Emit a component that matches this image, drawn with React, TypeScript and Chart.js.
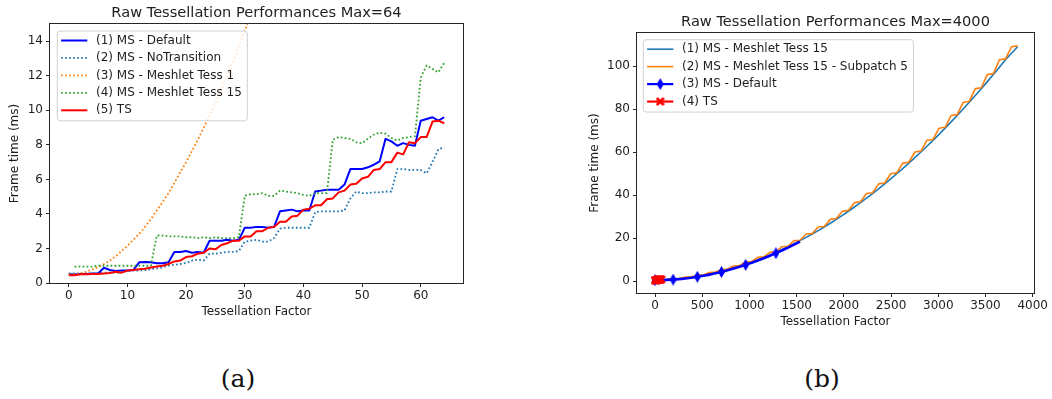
import React, { useEffect, useRef } from 'react';
import { Chart, registerables } from 'chart.js';

Chart.register(...registerables);

// ---------------- Panel (a): Max = 64 ----------------
const tessFactorA = [
  0, 1, 2, 3, 4, 5, 6, 7, 8, 9, 10, 11, 12, 13, 14, 15, 16, 17, 18, 19, 20, 21, 22, 23, 24, 25, 26, 27, 28, 29, 30, 31,
  32, 33, 34, 35, 36, 37, 38, 39, 40, 41, 42, 43, 44, 45, 46, 47, 48, 49, 50, 51, 52, 53, 54, 55, 56, 57, 58, 59, 60,
  61, 62, 63, 64,
];
const msDefaultA = [
  0.5, 0.5, 0.52, 0.52, 0.55, 0.55, 0.88, 0.75, 0.7, 0.72, 0.72, 0.75, 1.2, 1.22, 1.2, 1.15, 1.15, 1.2, 1.8, 1.8, 1.85,
  1.75, 1.8, 1.75, 2.45, 2.45, 2.45, 2.5, 2.45, 2.5, 3.2, 3.2, 3.25, 3.25, 3.2, 3.25, 4.15, 4.2, 4.25, 4.15, 4.2, 4.2,
  5.3, 5.35, 5.4, 5.4, 5.4, 5.7, 6.6, 6.6, 6.6, 6.7, 6.85, 7.05, 8.35, 8.2, 7.95, 8.1, 8.0, 7.95, 9.4, 9.5, 9.6, 9.4, 9.6,
];
const msNoTransitionA = [
  0.55, 0.55, 0.55, 0.55, 0.55, 0.55, 0.6, 0.6, 0.6, 0.62, 0.7, 0.72, 0.72, 0.75, 0.8, 0.85, 0.9, 1.0, 1.05, 1.1, 1.15,
  1.3, 1.35, 1.3, 1.7, 1.7, 1.75, 1.8, 1.8, 1.85, 2.4, 2.45, 2.5, 2.4, 2.4, 2.6, 3.15, 3.2, 3.2, 3.2, 3.2, 3.2, 4.1,
  4.15, 4.15, 4.15, 4.15, 4.2, 4.9, 5.3, 5.2, 5.2, 5.25, 5.25, 5.3, 5.3, 6.6, 6.6, 6.55, 6.55, 6.55, 6.35, 7.0, 7.75, 7.85,
];
const msMeshletTess1A = [
  0.5, 0.52, 0.56, 0.65, 0.78, 0.92, 1.1, 1.3, 1.55, 1.85, 2.15, 2.5, 2.85, 3.25, 3.7, 4.2, 4.7, 5.2, 5.8, 6.4, 7.0,
  7.65, 8.3, 9.0, 9.7, 10.45, 11.2, 12.0, 12.8, 13.7, 14.6, 15.5, 16.4,
];
const msMeshletTess15A = [
  null, 0.95, 0.95, 0.95, 0.95, 1.0, 1.0, 1.0, 1.0, 1.0, 1.0, 1.0, 1.0, 1.0, 1.0, 2.75, 2.75, 2.7, 2.7, 2.7, 2.65, 2.65,
  2.6, 2.65, 2.6, 2.65, 2.6, 2.6, 2.6, 2.65, 5.05, 5.15, 5.15, 5.2, 5.05, 5.05, 5.35, 5.3, 5.25, 5.2, 5.1, 5.05, 5.2,
  5.2, 5.2, 8.3, 8.45, 8.4, 8.35, 8.15, 8.1, 8.35, 8.6, 8.7, 8.65, 8.4, 8.25, 8.4, 8.45, 8.5, 11.9, 12.6, 12.4, 12.2, 12.75,
];
const tsA = [
  0.45, 0.45, 0.5, 0.5, 0.52, 0.52, 0.55, 0.58, 0.65, 0.6, 0.72, 0.75, 0.8, 0.82, 0.9, 0.95, 1.0, 1.1, 1.25, 1.3, 1.5,
  1.55, 1.7, 1.75, 2.0, 1.95, 2.2, 2.3, 2.45, 2.45, 2.7, 2.7, 3.0, 3.0, 3.2, 3.25, 3.55, 3.55, 3.85, 3.9, 4.25, 4.3,
  4.5, 4.5, 4.85, 4.9, 5.25, 5.35, 5.7, 5.75, 6.05, 6.15, 6.55, 6.6, 7.0, 7.0, 7.55, 7.45, 8.15, 8.1, 8.45, 8.45, 9.35,
  9.4, 9.25,
];
const xTicksA = [0, 10, 20, 30, 40, 50, 60];
const yTicksA = [0, 2, 4, 6, 8, 10, 12, 14];

// ---------------- Panel (b): Max = 4000 ----------------
const tessFactorB = [
  0, 64, 128, 192, 256, 320, 384, 448, 512, 576, 640, 704, 768, 832, 896, 960, 1024, 1088, 1152, 1216, 1280, 1344,
  1408, 1472, 1536, 1600, 1664, 1728, 1792, 1856, 1920, 1984, 2048, 2112, 2176, 2240, 2304, 2368, 2432, 2496, 2560,
  2624, 2688, 2752, 2816, 2880, 2944, 3008, 3072, 3136, 3200, 3264, 3328, 3392, 3456, 3520, 3584, 3648, 3712, 3776, 3840,
];
const meshletTess15B = [
  0.5, 0.59, 0.73, 0.94, 1.2, 1.53, 1.91, 2.35, 2.85, 3.41, 4.03, 4.7, 5.44, 6.23, 7.09, 8.0, 8.97, 10.0, 11.09, 12.24,
  13.45, 14.72, 16.04, 17.43, 18.87, 20.37, 21.93, 23.55, 25.23, 26.97, 28.77, 30.63, 32.54, 34.52, 36.55, 38.64,
  40.79, 43.0, 45.27, 47.6, 49.99, 52.43, 54.94, 57.5, 60.13, 62.81, 65.55, 68.35, 71.21, 74.13, 77.11, 80.14, 83.24,
  86.39, 89.6, 92.88, 96.21, 99.6, 103.05, 106.1, 109.1,
];
const subpatch5B = [
  0.5, 0.73, 0.78, 1.2, 1.25, 1.91, 1.96, 2.85, 2.9, 4.03, 4.23, 5.44, 5.64, 7.09, 7.29, 8.97, 9.17, 11.09, 11.29,
  13.45, 13.65, 16.04, 16.24, 18.87, 19.07, 21.93, 22.13, 25.23, 25.43, 28.77, 29.17, 32.54, 32.94, 36.55, 36.95,
  40.79, 41.19, 45.27, 45.67, 49.99, 50.39, 54.94, 55.34, 60.13, 60.53, 65.55, 65.95, 71.21, 71.61, 77.11, 77.51,
  83.24, 83.64, 89.6, 90.0, 96.21, 96.61, 103.05, 103.45, 109.1, 109.5,
];
const msDefaultB = [
  0.45, 0.5, 0.6, 0.75, 0.95, 1.25, 1.6, 2.05, 2.5, 3.05, 3.65, 4.3, 5.05, 5.85, 6.7, 7.6, 8.55, 9.6, 10.7, 11.85,
  13.05, 14.3, 15.6, 17.0, 18.45,
];
const defaultMarkerIdxB = [0, 3, 7, 11, 15, 20];
const tsXB = [0, 8, 16, 24, 32, 40, 48, 56, 64];
const tsB = [0.45, 0.5, 0.55, 0.6, 0.65, 0.7, 0.75, 0.8, 0.85];
const xTicksB = [0, 500, 1000, 1500, 2000, 2500, 3000, 3500, 4000];
const yTicksB = [0, 20, 40, 60, 80, 100];

// ---------------- helpers ----------------
const FONT = '"DejaVu Sans", "Noto Sans", sans-serif';
const TEXT = '#1e1e1e';

function makeDiamond(color: string) {
  const c = document.createElement('canvas');
  c.width = 7;
  c.height = 12;
  const g = c.getContext('2d')!;
  g.fillStyle = color;
  g.beginPath();
  g.moveTo(3.5, 0);
  g.lineTo(7, 6);
  g.lineTo(3.5, 12);
  g.lineTo(0, 6);
  g.closePath();
  g.fill();
  return c;
}

function makeX(color: string) {
  const c = document.createElement('canvas');
  c.width = 9;
  c.height = 9;
  const g = c.getContext('2d')!;
  g.strokeStyle = color;
  g.lineWidth = 2.8;
  g.lineCap = 'butt';
  g.beginPath();
  g.moveTo(1, 1);
  g.lineTo(8, 8);
  g.moveTo(8, 1);
  g.lineTo(1, 8);
  g.stroke();
  return c;
}

type LegendItem = { label: string; color: string; width: number; dash?: number[]; marker?: HTMLCanvasElement };
type Decor = {
  title: string;
  titleY: number;
  xLabel: string;
  xLabelY: number;
  yLabel: string;
  yLabelX: number;
  legendDx: number;
  legendDy: number;
  items: LegendItem[];
};

function makeDecor(d: Decor) {
  return {
    id: 'decor',
    afterDraw(chart: any) {
      const ctx = chart.ctx as CanvasRenderingContext2D;
      const ca = chart.chartArea;
      ctx.save();
      ctx.setLineDash([]);
      ctx.strokeStyle = '#262626';
      ctx.lineWidth = 1;
      const l = Math.round(ca.left) - 0.5;
      const t = Math.round(ca.top) - 0.5;
      const r = Math.round(ca.right) + 0.5;
      const b = Math.round(ca.bottom) + 0.5;
      ctx.strokeRect(l, t, r - l, b - t);

      const cx = (ca.left + ca.right) / 2;
      ctx.fillStyle = TEXT;
      ctx.textAlign = 'center';
      ctx.textBaseline = 'middle';
      ctx.font = `14.6px ${FONT}`;
      ctx.fillText(d.title, cx, d.titleY);
      ctx.font = `12px ${FONT}`;
      ctx.fillText(d.xLabel, cx, d.xLabelY);
      ctx.save();
      ctx.translate(d.yLabelX, (ca.top + ca.bottom) / 2);
      ctx.rotate(-Math.PI / 2);
      ctx.fillText(d.yLabel, 0, 0);
      ctx.restore();

      // legend
      ctx.font = `12px ${FONT}`;
      const maxW = Math.max(...d.items.map((it) => ctx.measureText(it.label).width));
      const bx = ca.left + d.legendDx;
      const by = ca.top + d.legendDy;
      const textOff = 38.7;
      const bw = textOff + maxW + 5.5;
      const first = 9.5;
      const gap = 17.45;
      const bh = first + (d.items.length - 1) * gap + 10.5;
      const rad = 3;
      ctx.beginPath();
      ctx.moveTo(bx + rad, by);
      ctx.lineTo(bx + bw - rad, by);
      ctx.arcTo(bx + bw, by, bx + bw, by + rad, rad);
      ctx.lineTo(bx + bw, by + bh - rad);
      ctx.arcTo(bx + bw, by + bh, bx + bw - rad, by + bh, rad);
      ctx.lineTo(bx + rad, by + bh);
      ctx.arcTo(bx, by + bh, bx, by + bh - rad, rad);
      ctx.lineTo(bx, by + rad);
      ctx.arcTo(bx, by, bx + rad, by, rad);
      ctx.closePath();
      ctx.fillStyle = 'rgba(255,255,255,0.8)';
      ctx.fill();
      ctx.strokeStyle = '#d0d0d0';
      ctx.lineWidth = 1;
      ctx.stroke();

      d.items.forEach((it, i) => {
        const y = by + first + i * gap;
        ctx.strokeStyle = it.color;
        ctx.lineWidth = it.width;
        ctx.lineCap = 'butt';
        ctx.setLineDash(it.dash || []);
        ctx.beginPath();
        ctx.moveTo(bx + 3.8, y);
        ctx.lineTo(bx + 30, y);
        ctx.stroke();
        ctx.setLineDash([]);
        if (it.marker) {
          ctx.drawImage(it.marker, bx + 16.9 - it.marker.width / 2, y - it.marker.height / 2);
        }
        ctx.fillStyle = TEXT;
        ctx.textAlign = 'left';
        ctx.textBaseline = 'middle';
        ctx.fillText(it.label, bx + textOff, y);
      });
      ctx.restore();
    },
  };
}

function axis(min: number, max: number, ticks: number[], isX: boolean) {
  return {
    type: 'linear',
    min,
    max,
    afterBuildTicks: (a: any) => {
      a.ticks = ticks.map((v) => ({ value: v }));
    },
    afterFit: (a: any) => {
      if (isX) a.height = 30;
      else a.width = 40;
    },
    grid: { drawOnChartArea: false, drawTicks: true, tickLength: 4, color: '#262626', lineWidth: 1 },
    border: { display: false },
    ticks: {
      font: { family: FONT, size: 12 },
      color: TEXT,
      padding: isX ? 2 : 3,
      maxRotation: 0,
      autoSkip: false,
      callback: (v: any) => String(v),
    },
  };
}

const DOT = [1.7, 2.3];

function buildLeft(): any {
  const pts = (xs: number[], ys: (number | null)[]) => ys.map((y, i) => ({ x: xs[i], y }));
  const base = { pointRadius: 0, tension: 0, fill: false, clip: 0, borderJoinStyle: 'round', borderCapStyle: 'butt' };
  const items: LegendItem[] = [
    { label: '(1) MS - Default', color: '#0000ff', width: 2 },
    { label: '(2) MS - NoTransition', color: '#1f77b4', width: 1.8, dash: DOT },
    { label: '(3) MS - Meshlet Tess 1', color: '#ff7f0e', width: 1.8, dash: DOT },
    { label: '(4) MS - Meshlet Tess 15', color: '#2ca02c', width: 1.8, dash: DOT },
    { label: '(5) TS', color: '#ff0000', width: 2 },
  ];
  return {
    type: 'line',
    data: {
      datasets: [
        { ...base, data: pts(tessFactorA, msDefaultA), borderColor: '#0000ff', borderWidth: 2, order: 5 },
        { ...base, data: pts(tessFactorA, msNoTransitionA), borderColor: '#1f77b4', borderWidth: 1.8, borderDash: DOT, order: 4 },
        { ...base, data: pts(tessFactorA, msMeshletTess1A), borderColor: '#ff7f0e', borderWidth: 1.8, borderDash: DOT, order: 3 },
        { ...base, data: pts(tessFactorA, msMeshletTess15A), borderColor: '#2ca02c', borderWidth: 1.8, borderDash: DOT, order: 2 },
        { ...base, data: pts(tessFactorA, tsA), borderColor: '#ff0000', borderWidth: 2, order: 1 },
      ],
    },
    options: {
      responsive: false,
      animation: false,
      devicePixelRatio: 1,
      events: [],
      layout: { padding: { left: 10, right: 17, top: 24, bottom: 17 } },
      plugins: { legend: { display: false }, tooltip: { enabled: false }, title: { display: false } },
      scales: { x: axis(-3.2, 67.2, xTicksA, true), y: axis(0, 15, yTicksA, false) },
    },
    plugins: [
      makeDecor({
        title: 'Raw Tessellation Performances Max=64',
        titleY: 13.3,
        xLabel: 'Tessellation Factor',
        xLabelY: 312.3,
        yLabel: 'Frame time (ms)',
        yLabelX: 15,
        legendDx: 7.3,
        legendDy: 7,
        items,
      }),
    ],
  };
}

function buildRight(): any {
  const diamond = makeDiamond('#0000ff');
  const cross = makeX('#ff0000');
  const pts = (xs: number[], ys: number[]) => ys.map((y, i) => ({ x: xs[i], y }));
  const base = { tension: 0, fill: false, clip: 0, borderJoinStyle: 'round', borderCapStyle: 'butt' };
  const items: LegendItem[] = [
    { label: '(1) MS - Meshlet Tess 15', color: '#1f77b4', width: 1.6 },
    { label: '(2) MS - Meshlet Tess 15 - Subpatch 5', color: '#ff7f0e', width: 1.6 },
    { label: '(3) MS - Default', color: '#0000ff', width: 2.2, marker: diamond },
    { label: '(4) TS', color: '#ff0000', width: 2.2, marker: cross },
  ];
  return {
    type: 'line',
    data: {
      datasets: [
        { ...base, data: pts(tessFactorB, meshletTess15B), borderColor: '#1f77b4', borderWidth: 1.6, pointRadius: 0, order: 4 },
        { ...base, data: pts(tessFactorB, subpatch5B), borderColor: '#ff7f0e', borderWidth: 1.6, pointRadius: 0, order: 3 },
        {
          ...base,
          data: pts(tessFactorB, msDefaultB),
          borderColor: '#0000ff',
          borderWidth: 2.6,
          pointStyle: diamond,
          pointRadius: (c: any) => (defaultMarkerIdxB.includes(c.dataIndex) ? 5 : 0),
          order: 2,
        },
        {
          ...base,
          data: pts(tsXB, tsB),
          borderColor: '#ff0000',
          borderWidth: 2,
          pointStyle: cross,
          pointRadius: 4,
          order: 1,
        },
      ],
    },
    options: {
      responsive: false,
      animation: false,
      devicePixelRatio: 1,
      events: [],
      layout: { padding: { left: 57, right: 18, top: 33, bottom: 17 } },
      plugins: { legend: { display: false }, tooltip: { enabled: false }, title: { display: false } },
      scales: { x: axis(-191, 4014, xTicksB, true), y: axis(-5.5, 115.5, yTicksB, false) },
    },
    plugins: [
      makeDecor({
        title: 'Raw Tessellation Performances Max=4000',
        titleY: 22,
        xLabel: 'Tessellation Factor',
        xLabelY: 321.7,
        yLabel: 'Frame time (ms)',
        yLabelX: 55,
        legendDx: 6.3,
        legendDy: 6.7,
        items,
      }),
    ],
  };
}

function ChartCanvas(props: { left: number; top: number; width: number; height: number; build: () => any }) {
  const ref = useRef<HTMLCanvasElement>(null);
  useEffect(() => {
    const chart = new Chart(ref.current as HTMLCanvasElement, props.build());
    return () => chart.destroy();
  }, []);
  return (
    <canvas
      ref={ref}
      width={props.width}
      height={props.height}
      style={{ position: 'absolute', left: props.left, top: props.top, width: props.width, height: props.height }}
    />
  );
}

const captionStyle: React.CSSProperties = {
  position: 'absolute',
  top: 366,
  width: 80,
  textAlign: 'center',
  fontFamily: '"DejaVu Serif", "Liberation Serif", serif',
  fontSize: 25,
  lineHeight: '25px',
  color: '#111',
};

export default function App() {
  return (
    <div style={{ position: 'absolute', left: 0, top: 0, width: 1052, height: 399, background: '#fff', overflow: 'hidden' }}>
      <ChartCanvas left={0} top={0} width={480} height={330} build={buildLeft} />
      <ChartCanvas left={540} top={0} width={512} height={340} build={buildRight} />
      <div style={{ ...captionStyle, left: 238 - 40 }}>(a)</div>
      <div style={{ ...captionStyle, left: 822 - 40 }}>(b)</div>
    </div>
  );
}
